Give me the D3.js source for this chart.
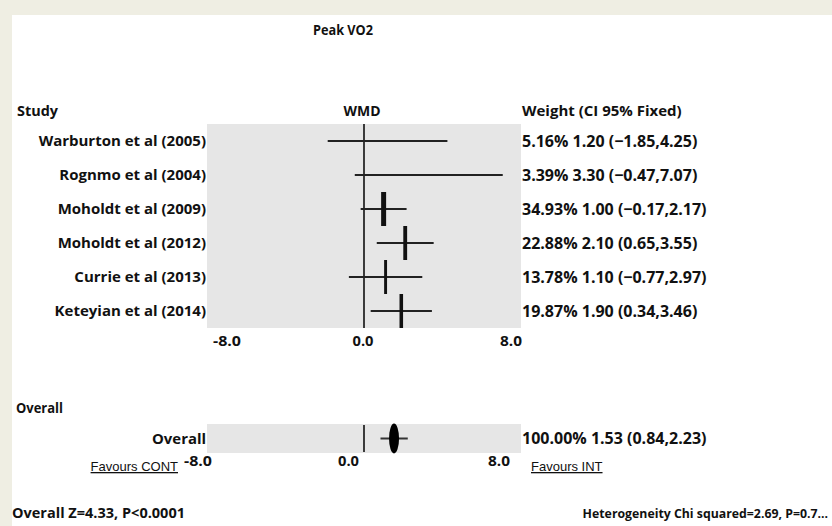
<!DOCTYPE html>
<html>
<head>
<meta charset="utf-8">
<script src="https://cdn.jsdelivr.net/npm/d3@7"></script>
<style>
  body { margin: 0; background: #efeee3; }
  svg { display: block; }
  text { font-family: "Open Sans", "DejaVu Sans", sans-serif; font-weight: 700; fill: #111; }
</style>
</head>
<body>
<svg id="chart" width="832" height="526"></svg>
<script>
// study level data
const studies = ["Warburton et al (2005)", "Rognmo et al (2004)", "Moholdt et al (2009)",
                 "Moholdt et al (2012)", "Currie et al (2013)", "Keteyian et al (2014)"];
const weights = [5.16, 3.39, 34.93, 22.88, 13.78, 19.87];
const wmd = [1.20, 3.30, 1.00, 2.10, 1.10, 1.90];
const lower = [-1.85, -0.47, -0.17, 0.65, -0.77, 0.34];
const upper = [4.25, 7.07, 2.17, 3.55, 2.97, 3.46];

// pooled
const overallWeight = 100.00;
const overallWmd = 1.53;
const overallLower = 0.84;
const overallUpper = 2.23;

const tickValues = [-8, 0, 8];

const svg = d3.select("#chart");
svg.append("rect").attr("x", 12).attr("y", 15).attr("width", 820).attr("height", 511).attr("fill", "#fff");

const x = d3.scaleLinear().domain([-8, 8]).range([207, 521]);
const y = d3.scaleBand().domain(studies).range([124, 328]);
// weight -> thickness of the point-estimate tick (tiny weights vanish)
const thick = d3.scaleLinear().domain([5.5, 14, 35]).range([0, 3, 5]).clamp(true);

const f2 = d3.format(".2f");
const label = (w, m, l, u) => `${f2(w)}% ${f2(m)} (${f2(l)},${f2(u)})`;
const fmt1 = d => d3.format(".1f")(d).replace("−", "-");

// narrow-ish text: bigger glyphs squeezed to the width seen in the picture
function txt(s, px, py, size, width, anchor) {
  const t = svg.append("text").attr("x", px).attr("y", py).attr("font-size", size)
    .attr("text-anchor", anchor || "start").text(s);
  if (width) t.attr("textLength", width).attr("lengthAdjust", "spacingAndGlyphs");
  return t;
}

// title + headers
txt("Peak VO2", 343, 35, 15, 60, "middle");
txt("Study", 17, 116, 15, 41);
txt("WMD", 362, 116, 15, 37, "middle");
txt("Weight (CI 95% Fixed)", 522, 116, 15);

// top panel
svg.append("rect").attr("x", x(-8)).attr("y", 124).attr("width", x(8) - x(-8)).attr("height", 204).attr("fill", "#e6e6e6");
svg.append("line").attr("x1", x(0)).attr("x2", x(0)).attr("y1", 124).attr("y2", 328)
  .attr("stroke", "#111").attr("stroke-width", 1.6);

const rows = svg.append("g").selectAll("g").data(studies).join("g")
  .attr("transform", d => `translate(0,${y(d) + y.bandwidth() / 2})`);

rows.append("line")
  .attr("x1", (d, i) => x(lower[i])).attr("x2", (d, i) => x(upper[i]))
  .attr("stroke", "#222").attr("stroke-width", 2);
rows.append("line")
  .attr("x1", (d, i) => x(wmd[i])).attr("x2", (d, i) => x(wmd[i]))
  .attr("y1", -y.bandwidth() / 2).attr("y2", y.bandwidth() / 2)
  .attr("stroke", "#111").attr("stroke-width", (d, i) => thick(weights[i]));
rows.append("text").attr("x", 206).attr("dy", "0.36em").attr("text-anchor", "end")
  .attr("font-size", 15).text(d => d);
rows.append("text").attr("x", 522).attr("dy", "0.36em").attr("font-size", 16)
  .text((d, i) => label(weights[i], wmd[i], lower[i], upper[i]));

const tickW = {"-8": 28, "0": 21, "8": 22};
tickValues.forEach(d => {
  const px = d === -8 ? 213 : d === 8 ? 522 : x(d) - 1;
  txt(fmt1(d), px, 346, 15, tickW[d], d === -8 ? "start" : d === 8 ? "end" : "middle");
});

// overall section
txt("Overall", 16, 413, 15, 47);
svg.append("rect").attr("x", x(-8)).attr("y", 424).attr("width", x(8) - x(-8)).attr("height", 29).attr("fill", "#e6e6e6");
svg.append("line").attr("x1", x(0)).attr("x2", x(0)).attr("y1", 425).attr("y2", 452)
  .attr("stroke", "#111").attr("stroke-width", 1.6);
svg.append("line").attr("x1", x(overallLower)).attr("x2", x(overallUpper)).attr("y1", 438.5).attr("y2", 438.5)
  .attr("stroke", "#333").attr("stroke-width", 2);
svg.append("ellipse").attr("cx", x(overallWmd)).attr("cy", 438.5).attr("rx", 5).attr("ry", 15).attr("fill", "#000");
txt("Overall", 206, 444, 15, 54, "end");
txt(label(overallWeight, overallWmd, overallLower, overallUpper), 522, 444, 16);

const xb = d3.scaleLinear().domain([-8, 8]).range([198, 499]);
tickValues.forEach(d => txt(fmt1(d), xb(d), 466, 15, tickW[d], "middle"));

const fav = [{t: "Favours CONT", x: 178, a: "end"}, {t: "Favours INT", x: 531, a: "start"}];
fav.forEach(f => {
  svg.append("text").attr("x", f.x).attr("y", 471).attr("text-anchor", f.a)
    .attr("font-size", 13).style("font-family", "'Liberation Sans', Arial, sans-serif")
    .style("font-weight", 400).attr("text-decoration", "underline").text(f.t);
});

txt("Overall Z=4.33, P<0.0001", 12, 518, 15, 173);
txt("Heterogeneity Chi squared=2.69, P=0.7...", 828, 518, 12.3, null, "end");
</script>
</body>
</html>
